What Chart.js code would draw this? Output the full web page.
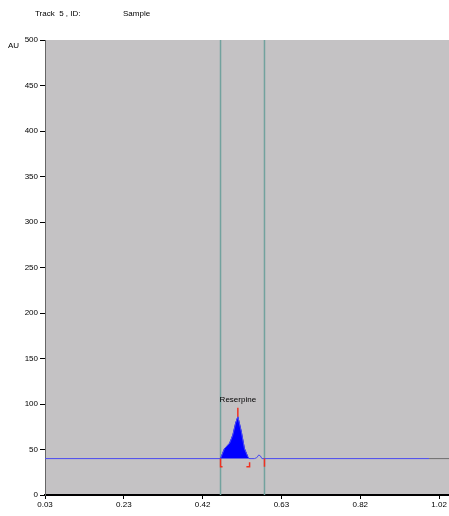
<!DOCTYPE html>
<html>
<head>
<meta charset="utf-8">
<script src="https://cdn.jsdelivr.net/npm/chart.js@4.4.1/dist/chart.umd.min.js"></script>
<style>
  html, body { margin: 0; padding: 0; background: #fff; }
</style>
</head>
<body>
<canvas id="chromChart" width="449" height="516"></canvas>
<script>
// densitogram of track 5
var xTicks = [0.03, 0.228, 0.426, 0.624, 0.822, 1.02];
var xTickLabels = ["0.03", "0.23", "0.42", "0.63", "0.82", "1.02"];
var baseline = 40;

// trace: Rf values and AU
var traceX = [0.03, 0.471, 0.481, 0.494, 0.502, 0.509, 0.5145, 0.523, 0.531, 0.5395, 0.544, 0.55, 0.556, 0.562, 0.567, 0.571, 0.575, 0.5814, 0.995];
var traceY = [40, 40, 51, 57, 66, 79, 86, 70, 51, 42, 40, 40, 40, 41, 44, 43, 40, 40, 40];

// filled peak (Reserpine)
var peakX = [0.471, 0.481, 0.494, 0.502, 0.509, 0.5145, 0.523, 0.531, 0.5395, 0.544];
var peakY = [40, 51, 57, 66, 79, 86, 70, 51, 42, 40];
var peakName = "Reserpine";
var peakTop = 86;

// tail of trace after the scan end
var tailX = [0.995, 1.045];

// integration window lines
var windowLines = [0.471, 0.5814];

function pts(xs, ys) {
  return xs.map(function (x, i) { return { x: x, y: ys[i] }; });
}

var bgPlugin = {
  id: 'bg',
  beforeDraw: function (chart) {
    var a = chart.chartArea, ctx = chart.ctx;
    ctx.save();
    ctx.fillStyle = '#c4c2c4';
    ctx.fillRect(a.left, a.top, a.right - a.left, a.bottom - a.top);
    ctx.restore();
  },
  afterDraw: function (chart) {
    var ctx = chart.ctx, xs = chart.scales.x, ys = chart.scales.y;
    ctx.save();
    ctx.fillStyle = '#000';
    ctx.font = '8px "Liberation Sans", Arial, sans-serif';
    ctx.textBaseline = 'middle';
    ctx.fillText('Track  5 , ID:', 35, 14);
    ctx.fillText('Sample', 123, 14);
    ctx.fillText('AU', 8, 46);
    ctx.textAlign = 'center';
    ctx.fillText(peakName, xs.getPixelForValue(0.5145), ys.getPixelForValue(105));
    ctx.restore();
  }
};

function vline(v) { return [{ x: v, y: 0 }, { x: v, y: 500 }]; }

var red = '#f03020';
new Chart(document.getElementById('chromChart'), {
  type: 'line',
  data: {
    datasets: [
      { data: vline(windowLines[0]), borderColor: '#72a29e', borderWidth: 1.5, order: 10 },
      { data: vline(windowLines[1]), borderColor: '#72a29e', borderWidth: 1.5, order: 10 },
      { data: pts(peakX, peakY), borderColor: '#0000ff', backgroundColor: '#0000ff', fill: { value: baseline }, borderWidth: 1, order: 5 },
      { data: pts(traceX, traceY), borderColor: '#4a4af0', borderWidth: 1, order: 4 },
      { data: pts(tailX, [baseline, baseline]), borderColor: '#6e6e6e', borderWidth: 1, order: 4 },
      { data: [{ x: 0.5145, y: peakTop }, { x: 0.5145, y: 96 }], borderColor: red, borderWidth: 1.5, order: 1 },
      { data: [{ x: windowLines[0], y: baseline }, { x: windowLines[0], y: 31 }, { x: 0.476, y: 31 }], borderColor: red, borderWidth: 1.5, order: 1 },
      { data: [{ x: 0.544, y: 36 }, { x: 0.544, y: 31 }, { x: 0.536, y: 31 }], borderColor: red, borderWidth: 1.5, order: 1 },
      { data: [{ x: windowLines[1], y: baseline }, { x: windowLines[1], y: 31 }], borderColor: red, borderWidth: 1.5, order: 1 }
    ]
  },
  options: {
    responsive: false,
    animation: false,
    events: [],
    elements: { point: { radius: 0 }, line: { tension: 0 } },
    layout: { padding: { top: 40, right: 0, left: 0, bottom: 0 } },
    plugins: { legend: { display: false }, tooltip: { enabled: false } },
    scales: {
      x: {
        type: 'linear',
        min: 0.03,
        max: 1.045,
        afterFit: function (s) { s.height = 21; },
        afterBuildTicks: function (s) { s.ticks = xTicks.map(function (v) { return { value: v }; }); },
        ticks: {
          autoSkip: false,
          maxRotation: 0,
          padding: 1,
          color: '#000',
          font: { family: '"Liberation Sans", Arial, sans-serif', size: 8 },
          callback: function (v, i) { return xTickLabels[i]; }
        },
        grid: { drawOnChartArea: false, drawTicks: true, tickLength: 4, color: '#000' },
        border: { display: true, color: '#000', width: 2 }
      },
      y: {
        min: 0,
        max: 500,
        afterFit: function (s) { s.width = 45; },
        ticks: {
          stepSize: 50,
          autoSkip: false,
          padding: 2,
          color: '#000',
          font: { family: '"Liberation Sans", Arial, sans-serif', size: 8 }
        },
        grid: { drawOnChartArea: false, drawTicks: true, tickLength: 5, color: '#000' },
        border: { display: true, color: '#666', width: 1 }
      }
    }
  },
  plugins: [bgPlugin]
});
</script>
</body>
</html>
